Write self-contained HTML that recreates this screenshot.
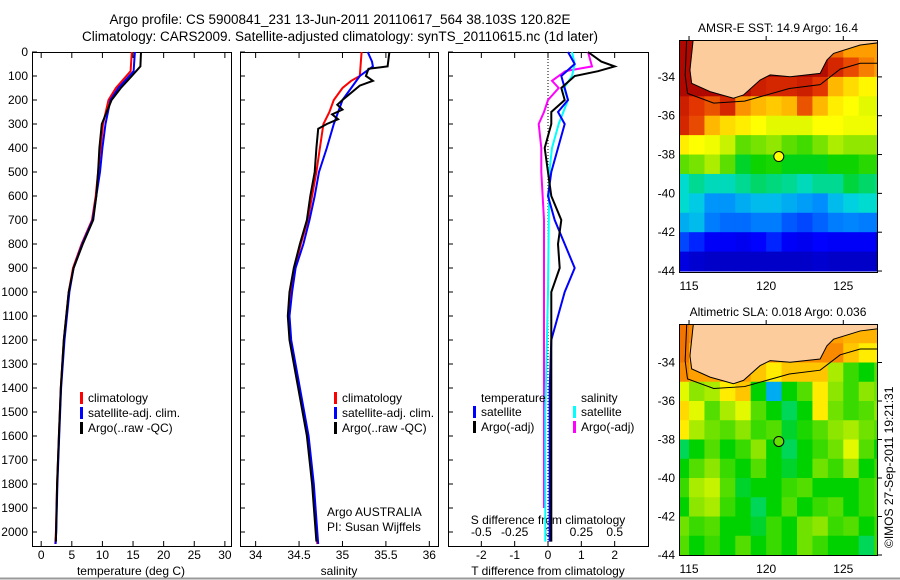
<!DOCTYPE html>
<html><head><meta charset="utf-8"><style>
body{margin:0;background:#fff;}
svg{display:block;font-family:"Liberation Sans",sans-serif;}
</style></head><body>
<svg id="s" width="900" height="580" viewBox="0 0 900 580">
<defs>
<clipPath id="c1"><rect x="679" y="40" width="199" height="232"/></clipPath>
<clipPath id="c2"><rect x="679" y="324" width="199" height="231"/></clipPath>
</defs>
<text x="340" y="24" text-anchor="middle" font-size="13.5">Argo profile: CS 5900841_231 13-Jun-2011 20110617_564 38.103S 120.82E</text>
<text x="340" y="41" text-anchor="middle" font-size="13.5">Climatology: CARS2009. Satellite-adjusted climatology: synTS_20110615.nc (1d later)</text>
<line x1="0" y1="578.5" x2="900" y2="578.5" stroke="#999" stroke-width="2"/>
</svg>
<script>
// ---- data ----
const tClimD=[0,80,150,200,300,500,600,700,800,900,1000,1200,1400,1600,1800,2000,2050];
const tClimV=[14.8,14.6,12.2,11.0,10.1,9.3,8.9,8.3,6.6,5.2,4.5,3.7,3.2,2.9,2.6,2.4,2.3];
const tSatD=[0,80,150,200,300,400,500,600,700,800,900,1000,1200,1400,1600,1800,2000,2050];
const tSatV=[15.3,15.1,12.6,11.3,10.5,10.0,9.6,9.0,8.4,6.7,5.3,4.6,3.8,3.25,2.95,2.65,2.45,2.35];
const tArgD=[0,60,80,100,150,200,300,400,500,600,700,800,900,1000,1200,1400,1600,1800,2040];
const tArgV=[16.3,16.2,15.5,14.8,13.0,11.5,9.9,9.5,9.3,9.0,8.5,6.8,5.3,4.5,3.7,3.2,2.9,2.6,2.4];
const sClimD=[0,100,120,150,200,250,300,400,500,600,700,800,900,1000,1100,1200,1300,1400,1500,1600,1700,1800,1900,2000,2050];
const sClimV=[35.22,35.2,35.1,35.0,34.9,34.85,34.78,34.74,34.7,34.65,34.6,34.52,34.45,34.4,34.38,34.4,34.45,34.5,34.55,34.6,34.63,34.66,34.68,34.7,34.71];
const sSatD=[0,40,60,100,150,200,300,400,500,600,700,800,900,1000,1100,1200,1400,1600,1800,2000,2050];
const sSatV=[35.29,35.34,35.35,35.2,35.1,35.0,34.9,34.82,34.73,34.68,34.62,34.55,34.46,34.42,34.39,34.41,34.51,34.61,34.67,34.71,34.72];
const sArgD=[0,60,70,100,120,140,200,220,240,260,280,300,320,400,500,600,700,800,900,1000,1100,1200,1400,1600,1800,2040];
const sArgV=[35.54,35.52,35.3,35.27,35.35,35.2,35.0,34.94,35.0,34.88,34.95,34.82,34.72,34.7,34.68,34.63,34.59,34.51,34.44,34.39,34.37,34.39,34.49,34.59,34.65,34.7];
const dTsatD=[0,50,100,150,200,250,300,400,500,600,700,800,900,1000,1100,1200,1400,2040];
const dTsatV=[0.6,0.8,0.4,0.5,0.6,0.3,0.5,0.3,0.1,0.0,0.2,0.5,0.8,0.5,0.3,0.1,0.05,0.05];
const dTargD=[0,40,60,80,100,150,200,250,300,400,500,600,700,800,900,1000,1200,1500,2040];
const dTargV=[1.2,1.6,2.0,1.5,0.8,0.4,0.5,0.1,0.1,-0.1,0.0,0.1,0.4,0.3,0.35,0.1,0.1,0.1,0.1];
const dSsatD=[0,50,100,150,200,300,400,500,1000,1500,2040];
const dSsatV=[0.18,0.2,0.18,0.12,0.15,0.08,0.03,0.01,0.0,-0.02,-0.02];
const dSargD=[0,60,80,120,150,200,250,300,400,500,700,1000,1900];
const dSargV=[0.3,0.33,0.13,0.03,0.08,0.0,-0.03,-0.07,-0.05,-0.05,-0.03,-0.03,-0.03];
const depthTicks=[0,100,200,300,400,500,600,700,800,900,1000,1100,1200,1300,1400,1500,1600,1700,1800,1900,2000];
const tTicks=[0,5,10,15,20,25,30];
const sTicks=[34,34.5,35,35.5,36];
const dTTicks=[-2,-1,0,1,2];
const dSTicks=[-0.5,-0.25,0,0.25,0.5];
const dSTickLabels=["-0.5","-0.25","0","0.25","0.5"];
const latTicks=[-34,-36,-38,-40,-42,-44];
const lonTicks=[115,120,125];
const gridLon=[114.5,115.5,116.5,117.5,118.5,119.5,120.5,121.5,122.5,123.5,124.5,125.5,126.5,127.5];
const gridLat=[-32.5,-33.5,-34.5,-35.5,-36.5,-37.5,-38.5,-39.5,-40.5,-41.5,-42.5,-43.5];
const sst=[
[19.6,19.6,19.6,19.6,19.6,19.6,19.6,19.6,19.6,19,18,17.5,17.5,17.5],
[19.6,19.6,19.6,19.6,19.6,19.6,19.6,19.6,19.6,19.5,18.8,18.3,17.8,17.5],
[19.6,19.6,19.6,19.6,19.5,19,18.8,18.8,19,18.5,17.2,16.8,16.5,16.5],
[19,18.5,18.2,18.8,17.6,17.2,17,17.2,18.2,17.2,16.6,16.4,16.2,16.2],
[18.8,18.3,17.2,16.8,16.6,16.4,16.2,16.2,16.2,16.4,16.4,16.3,16.3,16.3],
[16.6,16.4,16.3,16.0,15.2,15.4,15.6,15.2,15.0,15.4,15.8,15.6,15.6,15.6],
[15.2,15.4,15.8,15.2,14.3,14.6,14.7,14.4,14.4,14.4,14.6,14.6,14.8,14.8],
[13.5,13.8,13.6,13.6,13.8,14.0,13.9,13.8,13.6,13.8,13.8,14.2,14.0,13.9],
[13.5,13.2,12.5,12.5,12.8,13.0,13.0,12.8,12.6,12.4,13.0,13.3,13.5,13.5],
[12.8,13.0,12.2,12.0,12.0,12.2,12.2,11.8,11.6,11.9,12.2,12.3,12.2,12.2],
[11.6,11.2,10.7,10.7,10.6,10.8,11.2,10.7,10.6,10.8,10.7,10.7,10.7,10.7],
[10.4,10.2,10.1,10.1,10.1,10.1,10.1,10.1,10.1,10.2,10.1,10.1,10.1,10.1]];
const sla=[
[0.16,0.15,0.15,0.15,0.15,0.15,0.15,0.15,0.15,0.15,0.14,0.13,0.13,0.13],
[0.16,0.13,0.15,0.15,0.15,0.15,0.15,0.15,0.15,0.15,0.15,0.12,0.1,0.1],
[0.15,0.14,0.14,0.15,0.14,0.12,0.1,0.12,0.12,0.12,0.06,0.02,0.0,0.03],
[0.08,0.05,0.06,0.1,0.12,0.0,-0.08,0.0,0.03,0.1,0.05,0.02,0.05,0.04],
[0.11,0.08,0.03,0.06,0.08,0.03,0.0,-0.02,0.0,0.1,0.04,0.02,0.03,0.05],
[0.1,0.06,0.04,0.03,0.05,0.02,0.03,-0.01,0.01,0.03,0.05,0.06,0.04,0.03],
[-0.02,0.0,0.03,0.0,0.02,0.05,0.0,-0.02,0.0,0.02,0.04,0.08,0.03,0.0],
[0.0,0.03,0.05,0.02,0.0,0.03,0.0,-0.01,0.0,0.04,0.02,0.05,0.0,0.02],
[0.02,0.06,0.07,0.03,-0.01,0.0,0.0,0.02,0.03,0.0,0.0,0.0,0.02,0.03],
[0.0,0.05,0.06,0.02,0.0,-0.02,0.0,0.03,0.0,0.02,0.03,0.0,0.02,0.03],
[0.04,0.02,0.03,0.0,0.0,-0.01,0.02,0.0,0.04,0.05,0.02,0.03,0.0,0.02],
[0.03,0.0,0.02,0.0,0.03,0.0,0.02,0.0,0.04,0.02,0.0,0.0,-0.02,0.02]];
const coastLon=[115.28,115.06,115.17,116.36,117.88,118.53,119.61,120.26,121.56,123.5,123.94,124.37,126.1,127.3,127.3,115.28];
const coastLat=[-32.0,-33.65,-34.33,-34.76,-35.1,-34.93,-34.16,-33.9,-33.99,-33.82,-33.13,-32.79,-32.36,-32.24,-32.0,-32.0];
const contLon=[114.85,114.75,114.9,116.6,118.6,121.5,123.5,124.8,126.1,127.3];
const contLat=[-32.0,-33.9,-34.85,-35.35,-35.25,-34.6,-34.4,-33.6,-33.3,-33.3];
const argoLon=120.82, argoLat=-38.103;
const sstArgo=16.4;
const slaArgo=0.036;

// ---- drawing ----
const S=document.getElementById('s');const NS='http://www.w3.org/2000/svg';
function mk(t,a,parent){const e=document.createElementNS(NS,t);for(const k in a)e.setAttribute(k,a[k]);(parent||S).appendChild(e);return e;}
const yD=d=>52+d*0.24;
const P1={x0:32,x1:231,v0:-1.5,v1:31};
const P2={x0:240,x1:438,v0:33.82,v1:36.1};
const P3={x0:448,x1:648,v0:-3,v1:3};
const xf=(p,v)=>p.x0+(v-p.v0)/(p.v1-p.v0)*(p.x1-p.x0);
function panel(p,name){
  const r=mk('rect',{x:p.x0+0.5,y:52.5,width:p.x1-p.x0,height:494,fill:'none',stroke:'#000','stroke-width':1});
  
  depthTicks.forEach(d=>{const l=mk('line',{x1:p.x0,x2:p.x0+5,y1:yD(d),y2:yD(d),stroke:'#000'});
    });
}
function line(p,D,V,col,name,w,scale){
  const pts=D.map((d,i)=>xf(p,V[i]*(scale||1)).toFixed(1)+','+yD(d).toFixed(1)).join(' ');
  const e=mk('polyline',{points:pts,fill:'none',stroke:col,'stroke-width':w||2});
  
}
function txt(x,y,s,opt,name){const e=mk('text',Object.assign({x:x,y:y,'font-size':12},opt||{}));e.textContent=s;
  return e;}
panel(P1,'temperature-panel');panel(P2,'salinity-panel');panel(P3,'difference-panel');
depthTicks.forEach(d=>txt(28,yD(d)+4,String(d),{'text-anchor':'end'},'depth-tick-label'));
function xt(p,ticks,labels,y,name){ticks.forEach((v,i)=>{const x=xf(p,v);
  const a=mk('line',{x1:x,x2:x,y1:546,y2:541,stroke:'#000'});
  const b=mk('line',{x1:x,x2:x,y1:53,y2:58,stroke:'#000'});
  txt(x,y,labels?labels[i]:String(v),{'text-anchor':'middle'},name+'-label');});}
xt(P1,tTicks,null,559,'temperature-x');
xt(P2,sTicks,null,559,'salinity-x');
xt(P3,dTTicks,null,559,'t-diff-x');
dSTicks.forEach((v,i)=>{const x=xf(P3,v*4);txt(x,536,dSTickLabels[i],{'text-anchor':'middle'},'s-diff-tick-label');});
txt(131,575,'temperature (deg C)',{'text-anchor':'middle'},'temperature-axis-title');
txt(339,575,'salinity',{'text-anchor':'middle'},'salinity-axis-title');
txt(548,575,'T difference from climatology',{'text-anchor':'middle'},'t-diff-axis-title');
txt(548,524,'S difference from climatology',{'text-anchor':'middle'},'s-diff-axis-title');
const z=mk('line',{x1:xf(P3,0),x2:xf(P3,0),y1:53,y2:546,stroke:'#000','stroke-dasharray':'1,2'});

line(P1,tClimD,tClimV,'#f00','temp-climatology');line(P1,tSatD,tSatV,'#00f','temp-satellite');line(P1,tArgD,tArgV,'#000','temp-argo');
line(P2,sClimD,sClimV,'#f00','sal-climatology');line(P2,sSatD,sSatV,'#00f','sal-satellite');line(P2,sArgD,sArgV,'#000','sal-argo');
line(P3,dSargD,dSargV,'#f0f','s-diff-argo',2,4);line(P3,dSsatD,dSsatV,'#0ff','s-diff-satellite',2,4);
line(P3,dTsatD,dTsatV,'#00f','t-diff-satellite');line(P3,dTargD,dTargV,'#000','t-diff-argo');
function legend(x,y,items,name){items.forEach((it,i)=>{const r=mk('rect',{x:x,y:y+i*15-10,width:3,height:12,fill:it[0]});
  
  txt(x+8,y+i*15,it[1],{},name+'-entry');});}
legend(80,402,[['#f00','climatology'],['#00f','satellite-adj. clim.'],['#000','Argo(..raw -QC)']],'temp-legend');
legend(334,402,[['#f00','climatology'],['#00f','satellite-adj. clim.'],['#000','Argo(..raw -QC)']],'sal-legend');
txt(481,402,'temperature',{},'legend-temperature-heading');txt(581,402,'salinity',{},'legend-salinity-heading');
legend(473,416,[['#00f','satellite'],['#000','Argo(-adj)']],'tdiff-legend');
legend(573,416,[['#0ff','satellite'],['#f0f','Argo(-adj)']],'sdiff-legend');
txt(327,516,'Argo AUSTRALIA',{},'agency-label');txt(327,531,'PI: Susan Wijffels',{},'pi-label');
// maps
const cmapStops=[[0,0,0,128],[0.15,0,0,255],[0.3,0,140,255],[0.4,0,220,220],[0.5,0,210,0],[0.6,140,230,0],[0.68,255,255,0],[0.78,255,160,0],[0.88,225,50,0],[1,165,0,0]];
function cmap(t){t=Math.max(0,Math.min(1,t));for(let i=1;i<cmapStops.length;i++){const a=cmapStops[i-1],b=cmapStops[i];
  if(t<=b[0]){const f=(t-a[0])/(b[0]-a[0]);return 'rgb('+[1,2,3].map(k=>Math.round(a[k]+(b[k]-a[k])*f)).join(',')+')';}}
  return 'rgb(165,0,0)';}
function map(M,grid,vmin,vmax,name,clip,ptColor){
  const X=l=>M.x0+(l-M.l0)/(M.l1-M.l0)*(M.x1-M.x0);const Y=l=>M.y0+(M.a0-l)/(M.a0-M.a1)*(M.y1-M.y0);
  const g=mk('g',{'clip-path':'url(#'+clip+')'});
  grid.forEach((row,j)=>row.forEach((v,i)=>{const x=X(gridLon[i]-0.5),y=Y(gridLat[j]+0.5);
    const r=mk('rect',{x:x,y:y,width:X(gridLon[i]+0.5)-x+0.5,height:Y(gridLat[j]-0.5)-y+0.5,fill:cmap((v-vmin)/(vmax-vmin))},g);
    }));
  const land=mk('polygon',{points:coastLon.map((l,i)=>X(l)+','+Y(coastLat[i])).join(' '),fill:'#fccc9c',stroke:'#000','stroke-width':1},g);
  
  const ct=mk('polyline',{points:contLon.map((l,i)=>X(l)+','+Y(contLat[i])).join(' '),fill:'none',stroke:'#000','stroke-width':1},g);
  
  const fr=mk('rect',{x:M.x0+0.5,y:M.y0+0.5,width:M.x1-M.x0-1,height:M.y1-M.y0,fill:'none',stroke:'#000'});
  
  const c=mk('circle',{cx:X(argoLon),cy:Y(argoLat),r:5,fill:ptColor,stroke:'#000'});
  
  latTicks.forEach(a=>{const y=Y(a);txt(675,y+4,String(a),{'text-anchor':'end'},'lat-label');
    const t=mk('line',{x1:M.x1,x2:M.x1+4,y1:y,y2:y,stroke:'#000'});});
  lonTicks.forEach(l=>{const x=X(l);txt(x,M.y1+18,String(l),{'text-anchor':'middle'},'lon-label');
    const t=mk('line',{x1:x,x2:x,y1:M.y0-4,y2:M.y0,stroke:'#000'});});
}
map({x0:679,x1:878,y0:40,y1:272,l0:114.35,l1:127.25,a0:-32.1,a1:-44.05},sst,9.2,19.8,'sst-map','c1',cmap((sstArgo-9.2)/10.6));
map({x0:679,x1:878,y0:324,y1:555,l0:114.35,l1:127.25,a0:-32.0,a1:-44.0},sla,-0.25,0.25,'sla-map','c2',cmap((slaArgo+0.25)/0.5));
txt(778,32,'AMSR-E SST: 14.9 Argo: 16.4',{'text-anchor':'middle'},'sst-map-title');
txt(778,316,'Altimetric SLA: 0.018 Argo: 0.036',{'text-anchor':'middle'},'sla-map-title');
txt(0,0,'©IMOS 27-Sep-2011 19:21:31',{transform:'translate(893,548) rotate(-90)'},'timestamp');
</script>
</body></html>
